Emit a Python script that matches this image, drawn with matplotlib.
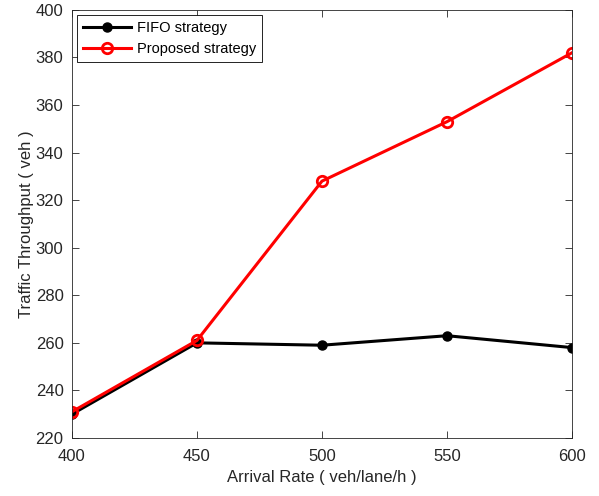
import matplotlib
matplotlib.use('Agg')
import matplotlib.pyplot as plt

# data
rates = [400, 450, 500, 550, 600]
fifo = [230, 260, 259, 263, 258]
proposed = [231, 261, 328, 353, 382]

plt.rcParams['font.family'] = ['Liberation Sans', 'DejaVu Sans']

fig = plt.figure(figsize=(5.99, 4.96), dpi=100)
ax = fig.add_axes([0.120, 0.117, 0.835, 0.863])

ax.plot(rates, fifo, color='black', lw=2.2, marker='o', ms=6.5,
        mfc='black', mec='black', label='FIFO strategy')
ax.plot(rates, proposed, color='red', lw=2.2, marker='o', ms=7.5,
        mfc='none', mec='red', mew=2, label='Proposed strategy')

ax.set_xlim(400, 600)
ax.set_ylim(220, 400)
ax.set_xticks(rates)
ax.set_yticks(range(220, 401, 20))
ax.tick_params(direction='in', top=True, right=True, labelsize=12,
               colors='#262626', length=5, width=0.6)
ax.tick_params(axis='x', pad=8)
ax.tick_params(axis='y', pad=6)
for s in ax.spines.values():
    s.set_linewidth(0.6)
    s.set_color('#262626')

ax.set_xlabel('Arrival Rate ( veh/lane/h )', fontsize=12, color='#262626', labelpad=4)
ax.set_ylabel('Traffic Throughput ( veh )', fontsize=12, color='#262626', labelpad=1)

leg = ax.legend(loc='upper left', fontsize=10.5, fancybox=False,
                edgecolor='black', framealpha=1, borderaxespad=0.35,
                handlelength=3.3, handletextpad=0.4, borderpad=0.4,
                labelspacing=0.5)
leg.get_frame().set_linewidth(0.6)

fig.savefig('out.png', dpi=100)
